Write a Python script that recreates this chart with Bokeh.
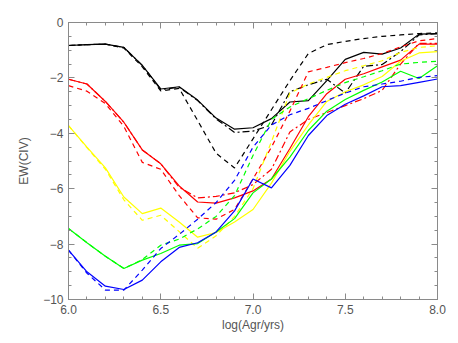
from bokeh.plotting import figure
from bokeh.models import Range1d, LinearAxis, SingleIntervalTicker, CustomJSTickFormatter
from bokeh.embed import file_html
from bokeh.resources import INLINE

# ---- data ----
age = [6.0, 6.1, 6.2, 6.3, 6.4, 6.5, 6.6, 6.7, 6.8, 6.9, 7.0,
       7.1, 7.2, 7.3, 7.4, 7.5, 7.6, 7.7, 7.8, 7.9, 8.0]

black_solid = [-0.83, -0.80, -0.78, -0.90, -1.55, -2.40, -2.32, -2.80, -3.45, -3.85, -3.80,
               -3.47, -2.87, -2.82, -2.10, -1.33, -1.08, -1.14, -0.92, -0.42, -0.40]
black_dashed = [-0.83, -0.80, -0.78, -0.92, -1.60, -2.47, -2.38, -3.54, -4.72, -5.25, -4.20,
                -3.15, -2.10, -1.12, -0.80, -0.68, -0.58, -0.50, -0.45, -0.40, -0.37]
black_dashdot = [-0.83, -0.80, -0.78, -0.90, -1.55, -2.42, -2.34, -2.82, -3.48, -3.97, -3.92,
                 -3.70, -2.50, -2.25, -2.05, -2.55, -1.58, -1.52, -1.05, -0.45, -0.40]

red_solid = [-2.05, -2.22, -2.85, -3.60, -4.60, -5.10, -5.90, -6.48, -6.52, -6.33, -6.08,
             -5.65, -4.55, -3.40, -2.57, -2.05, -1.85, -1.60, -1.36, -0.78, -0.78]
red_dashed = [-2.28, -2.48, -2.93, -3.75, -5.05, -5.30, -6.25, -7.05, -7.10, -6.75, -5.65,
              -4.50, -3.20, -1.78, -1.62, -1.45, -1.30, -1.12, -0.88, -0.66, -0.58]
red_dashdot = [-2.05, -2.22, -2.85, -3.60, -4.60, -5.10, -5.95, -6.33, -6.28, -6.15, -5.85,
               -5.30, -3.95, -3.50, -3.25, -3.00, -2.75, -2.45, -1.50, -0.75, -0.75]

yellow_solid = [-3.72, -4.50, -5.25, -6.30, -6.90, -6.70, -7.20, -7.75, -7.58, -7.20, -6.75,
                -5.80, -4.65, -3.70, -2.85, -2.50, -2.25, -1.95, -1.40, -1.10, -1.05]
yellow_dashed = [-3.72, -4.52, -5.30, -6.40, -7.14, -6.96, -7.55, -8.15, -7.70, -7.00, -6.00,
                 -4.30, -2.55, -2.22, -1.98, -1.74, -1.56, -1.38, -1.08, -0.90, -0.84]

green_solid = [-7.44, -7.95, -8.44, -8.88, -8.58, -8.34, -8.04, -7.98, -7.56, -7.08, -6.15,
               -5.65, -4.86, -3.90, -3.20, -2.78, -2.45, -2.15, -1.76, -2.02, -1.56]
green_dashed = [-7.44, -7.95, -8.44, -8.88, -8.56, -8.04, -7.82, -7.45, -7.00, -6.25, -4.80,
                -3.50, -3.05, -2.75, -2.45, -2.17, -1.96, -1.74, -1.50, -1.44, -1.40]

blue_solid = [-8.22, -9.00, -9.52, -9.64, -9.30, -8.64, -8.12, -7.95, -7.56, -6.80, -5.65,
              -5.97, -5.16, -4.08, -3.36, -2.95, -2.65, -2.32, -2.28, -2.16, -2.04]
blue_dashed = [-8.22, -9.05, -9.66, -9.66, -8.94, -8.16, -7.65, -7.10, -6.50, -5.70, -4.50,
               -3.70, -3.33, -3.10, -2.82, -2.55, -2.32, -2.22, -2.12, -1.98, -1.92]

x_label = "log(Agr/yrs)"
y_label = "EW(CIV)"

# ---- figure ----
AX = "#8a8a8a"
TXT = "#555555"
FONT = "Liberation Sans"

p = figure(width=450, height=335, x_range=Range1d(6.0, 8.0), y_range=Range1d(-10.0, 0.0),
           output_backend="svg", toolbar_location=None,
           min_border_left=68, min_border_right=13, min_border_top=22, min_border_bottom=36,
           x_axis_label=x_label, y_axis_label=y_label)
p.xgrid.visible = False
p.ygrid.visible = False
p.outline_line_color = AX
p.background_fill_color = "white"
p.border_fill_color = "white"

p.xaxis.ticker = SingleIntervalTicker(interval=0.5, num_minor_ticks=5)
p.yaxis.ticker = SingleIntervalTicker(interval=2, num_minor_ticks=4)
p.xaxis.formatter = CustomJSTickFormatter(code="return tick.toFixed(1);")
p.yaxis.formatter = CustomJSTickFormatter(
    code="return tick < 0 ? '\\u2212' + Math.abs(tick) : String(tick);")

def style(ax):
    ax.axis_line_color = AX
    ax.major_tick_line_color = AX
    ax.minor_tick_line_color = AX
    ax.major_tick_in = 6
    ax.major_tick_out = 0
    ax.minor_tick_in = 3
    ax.minor_tick_out = 0
    ax.major_label_text_color = TXT
    ax.major_label_text_font = FONT
    ax.major_label_text_font_size = "12px"
    ax.axis_label_text_color = TXT
    ax.axis_label_text_font = FONT
    ax.axis_label_text_font_size = "12px"
    ax.axis_label_text_font_style = "normal"

for ax in p.xaxis:
    style(ax)
    ax.major_label_standoff = 5
    ax.axis_label_standoff = 1
for ax in p.yaxis:
    style(ax)
    ax.major_label_standoff = 5
    ax.axis_label_standoff = 9

top = LinearAxis(ticker=SingleIntervalTicker(interval=0.5, num_minor_ticks=5),
                 formatter=CustomJSTickFormatter(code="return '';"))
right = LinearAxis(ticker=SingleIntervalTicker(interval=2, num_minor_ticks=4),
                   formatter=CustomJSTickFormatter(code="return '';"))
for ax in (top, right):
    style(ax)
    ax.major_label_standoff = 0
    ax.major_label_text_font_size = "0px"
p.add_layout(top, "above")
p.add_layout(right, "right")

W = 1.2
DASH = "5 4"
DASHDOT = "7 3 2 3"

p.line(age, black_dashed, color="black", line_width=W, line_dash=DASH)
p.line(age, black_dashdot, color="black", line_width=W, line_dash=DASHDOT)
p.line(age, black_solid, color="black", line_width=W)

p.line(age, red_dashed, color="#ff0000", line_width=W, line_dash=DASH)
p.line(age, red_dashdot, color="#ff0000", line_width=W, line_dash=DASHDOT)
p.line(age, red_solid, color="#ff0000", line_width=W)

p.line(age, yellow_dashed, color="#ffff00", line_width=W, line_dash=DASH)
p.line(age, yellow_solid, color="#ffff00", line_width=W)

p.line(age, green_dashed, color="#00ff00", line_width=W, line_dash=DASH)
p.line(age, green_solid, color="#00ff00", line_width=W)

p.line(age, blue_dashed, color="#0000ff", line_width=W, line_dash=DASH)
p.line(age, blue_solid, color="#0000ff", line_width=W)

open("out.html", "w").write(file_html(p, INLINE))
